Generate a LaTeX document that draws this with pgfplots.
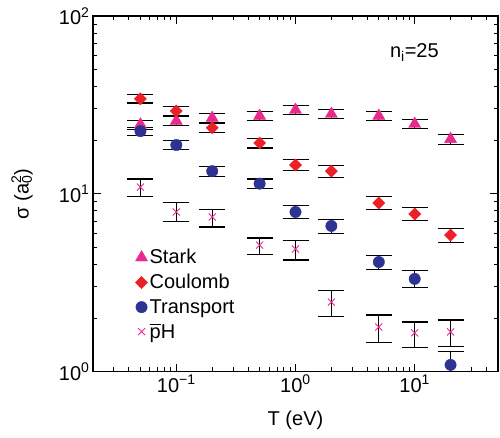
\documentclass[border=0pt]{standalone}
\usepackage{fontspec}
\setmainfont{Liberation Sans}
\usepackage{pgfplots}
\pgfplotsset{compat=1.18}
\definecolor{starkc}{RGB}{233,42,140}
\definecolor{coulc}{RGB}{236,32,38}
\definecolor{tranc}{RGB}{46,50,146}
\newcommand{\pbar}{\leavevmode\vbox{\hrule height 0.9pt\kern 2.6pt\hbox{p}}}
\pgfplotsset{myerr/.style={error bars/.cd, y dir=both, y explicit,
  error bar style={black, line width=0.9pt},
  error mark options={black, line width=1.1pt, mark size=13pt, rotate=90}}}
\begin{document}
\begin{tikzpicture}
\begin{axis}[
  scale only axis, width=405pt, height=355.5pt,
  xmode=log, ymode=log,
  xmin=0.02, xmax=50, ymin=1, ymax=100,
  font=\fontsize{20}{24}\selectfont,
  axis line style={line width=1.3pt},
  tick align=inside,
  major tick length=8pt, minor tick length=4.5pt,
  every tick/.style={black, line width=1pt},
  xtick={0.1,1,10},
  xticklabels={10\textsuperscript{−1},10\textsuperscript{0},10\textsuperscript{1}},
  minor xtick={0.02,0.03,0.04,0.05,0.06,0.07,0.08,0.09,0.2,0.3,0.4,0.5,0.6,0.7,0.8,0.9,2,3,4,5,6,7,8,9,20,30,40,50},
  ytick={1,10,100},
  yticklabels={10\textsuperscript{0},10\textsuperscript{1},10\textsuperscript{2}},
  minor ytick={2,3,4,5,6,7,8,9,20,30,40,50,60,70,80,90},
  xlabel={T (eV)},
  ylabel={σ (a\rlap{\textsubscript{0}}\textsuperscript{2})},
  xlabel style={at={(axis description cs:0.5,-0.136)}, anchor=center},
  ylabel style={at={(axis description cs:-0.175,0.5)}, anchor=center},
  legend style={draw=none, fill=none, at={(axis description cs:0.097,0.355)}, anchor=north west, font=\fontsize{20}{24}\selectfont, row sep=5pt},
  legend cell align=left,
]
\addplot[only marks, mark=triangle*, mark size=7pt, color=starkc, myerr]
  table[x=x, y=y, y error plus=ep, y error minus=em] {
x y ep em
0.05 24.5 1.4 1.4
0.1 25.7 1.5 1.5
0.2 26.7 1.6 1.6
0.5 27.4 1.6 1.6
1 29.6 1.7 1.7
2 28.1 1.6 1.6
5 27.4 1.6 1.6
10 24.7 1.5 1.5
20 20.3 1.3 1.3
};
\addlegendentry{Stark}
\addplot[only marks, mark=square*, mark options={rotate=45}, mark size=4.3pt, color=coulc, myerr]
  table[x=x, y=y, y error plus=ep, y error minus=em] {
x y ep em
0.05 34.2 1.8 1.8
0.1 29.2 1.7 1.7
0.2 23.5 1.4 1.4
0.5 19.3 1.2 1.2
1 14.5 1.0 1.0
2 13.4 1.0 1.0
5 8.87 0.75 0.75
10 7.69 0.65 0.65
20 5.86 0.53 0.53
};
\addlegendentry{Coulomb}
\addplot[only marks, mark=*, mark size=5.7pt, color=tranc, myerr]
  table[x=x, y=y, y error plus=ep, y error minus=em] {
x y ep em
0.05 22.5 1.2 1.2
0.1 18.8 1.1 1.1
0.2 13.4 0.85 0.85
0.5 11.4 0.7 0.7
1 7.9 0.65 0.65
2 6.59 0.6 0.6
5 4.13 0.38 0.38
10 3.32 0.36 0.36
20 1.09 0.2 0.2
};
\addlegendentry{Transport}
\addplot[only marks, mark=x, mark size=5pt, line width=0.9pt, color=starkc, myerr]
  table[x=x, y=y, y error plus=ep, y error minus=em] {
x y ep em
0.05 10.9 1.2 1.2
0.1 7.9 1.0 0.95
0.2 7.4 0.8 0.9
0.5 5.14 0.5 0.6
1 4.89 0.6 0.65
2 2.46 0.38 0.41
5 1.78 0.30 0.32
10 1.65 0.25 0.28
20 1.67 0.28 0.28
};
\addlegendentry{\pbar H}
\node[anchor=base west, inner sep=0pt] at (rel axis cs:0.733,0.882) {n\textsubscript{i}=25};
\end{axis}
\pgfresetboundingbox
\path[use as bounding box] ([shift={(-93pt,-65.5pt)}]current axis.south west) rectangle ([shift={(2pt,16pt)}]current axis.north east);
\end{tikzpicture}
\end{document}
